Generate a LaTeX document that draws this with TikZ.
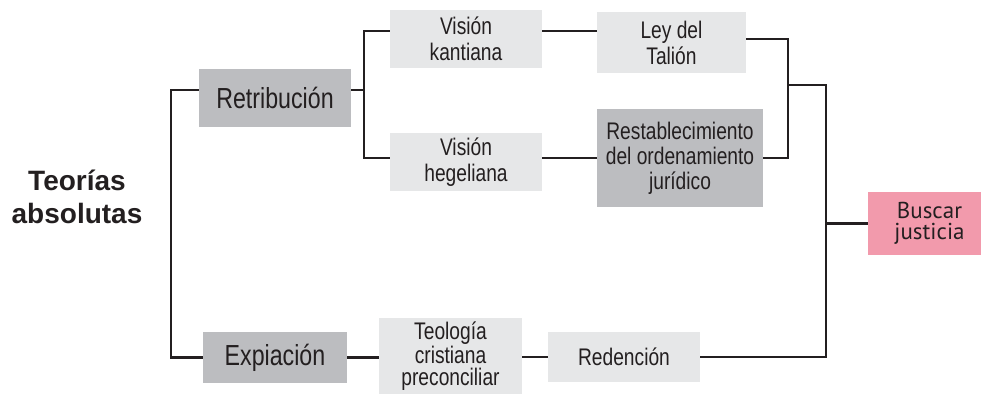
\documentclass[tikz,border=0pt]{standalone}
\usepackage{fontspec}
\setmainfont{Liberation Sans}
\newfontfamily\nar{Liberation Sans}[FakeStretch=0.8]
\newfontfamily\ptsans{PT Sans}
\definecolor{dgray}{HTML}{BCBDC0}
\definecolor{lgray}{HTML}{E6E7E8}
\definecolor{pinkbox}{HTML}{F29AAC}
\definecolor{ink}{HTML}{231F20}
\tikzset{
  box/.style={rectangle, inner sep=0pt, align=center, text=ink},
  lightbox/.style={box, fill=lgray, font=\nar\fontsize{24}{26}\selectfont},
  darkbox/.style={box, fill=dgray},
  bigtext/.style={font=\nar\fontsize{29}{31}\selectfont},
  conn/.style={draw=ink, line width=2.5pt},
}
\begin{document}
\begin{tikzpicture}[x=1pt,y=-1pt]
\useasboundingbox (0,0) rectangle (981,394);
% nodes
\node[box, font=\bfseries\fontsize{28}{33}\selectfont] (teo0) at (77,197) {Teorías\\absolutas};
\node[darkbox, bigtext, minimum width=152pt, minimum height=58pt] (ret) at (275,98) {Retribución};
\node[lightbox, minimum width=152pt, minimum height=58pt] (kant) at (466,39) {Visión\\kantiana};
\node[lightbox, minimum width=152pt, minimum height=58pt] (heg) at (466,162) {Visión\\hegeliana};
\node[lightbox, minimum width=149pt, minimum height=61pt] (ley) at (671.5,42.5) {Ley del\\Talión};
\node[darkbox, font=\nar\fontsize{24}{25}\selectfont, minimum width=166pt, minimum height=98pt] (rest) at (680,158) {Restablecimiento\\del ordenamiento\\jurídico};
\node[box, fill=pinkbox, font=\ptsans\fontsize{23}{21}\selectfont, minimum width=113pt, minimum height=63pt] (bus) at (924.5,223.5) {\hspace*{10pt}Buscar\\\hspace*{10pt}justicia};
\node[darkbox, bigtext, minimum width=144pt, minimum height=51pt] (exp) at (275,357.5) {Expiación};
\node[lightbox, font=\nar\fontsize{24}{22}\selectfont, minimum width=143pt, minimum height=76pt] (teol) at (450.5,356) {Teología\\cristiana\\preconciliar};
\node[lightbox, minimum width=152pt, minimum height=50pt] (red) at (624,357) {Redención};
% junctions
\coordinate (jl) at (171,357.5);
\coordinate (jr) at (364,90);
\coordinate (jm) at (788,85);
\coordinate (jb) at (826,85);
\path ([yshift=8pt]kant.east) coordinate (k1);
\path ([yshift=4pt]heg.east) coordinate (h1);
% connectors
\draw[conn] ([yshift=8pt]ret.west) -| (jl) -- (exp.west);
\draw[conn] ([yshift=8pt]ret.east) -- (jr);
\draw[conn] ([yshift=8pt]kant.west) -| (jr) |- ([yshift=4pt]heg.west);
\draw[conn] (k1) -- (k1 -| ley.west);
\draw[conn] (h1) -- (h1 -| rest.west);
\draw[conn] ([yshift=3.5pt]ley.east) -| (jm) |- (rest.east);
\draw[conn] (jm) -- (jb) |- (red.east);
\draw[conn] (jb |- bus.west) -- (bus.west);
\draw[conn] (exp.east) -- (exp.east -| teol.west);
\draw[conn] (red.west -| teol.east) -- (red.west);
\end{tikzpicture}
\end{document}
